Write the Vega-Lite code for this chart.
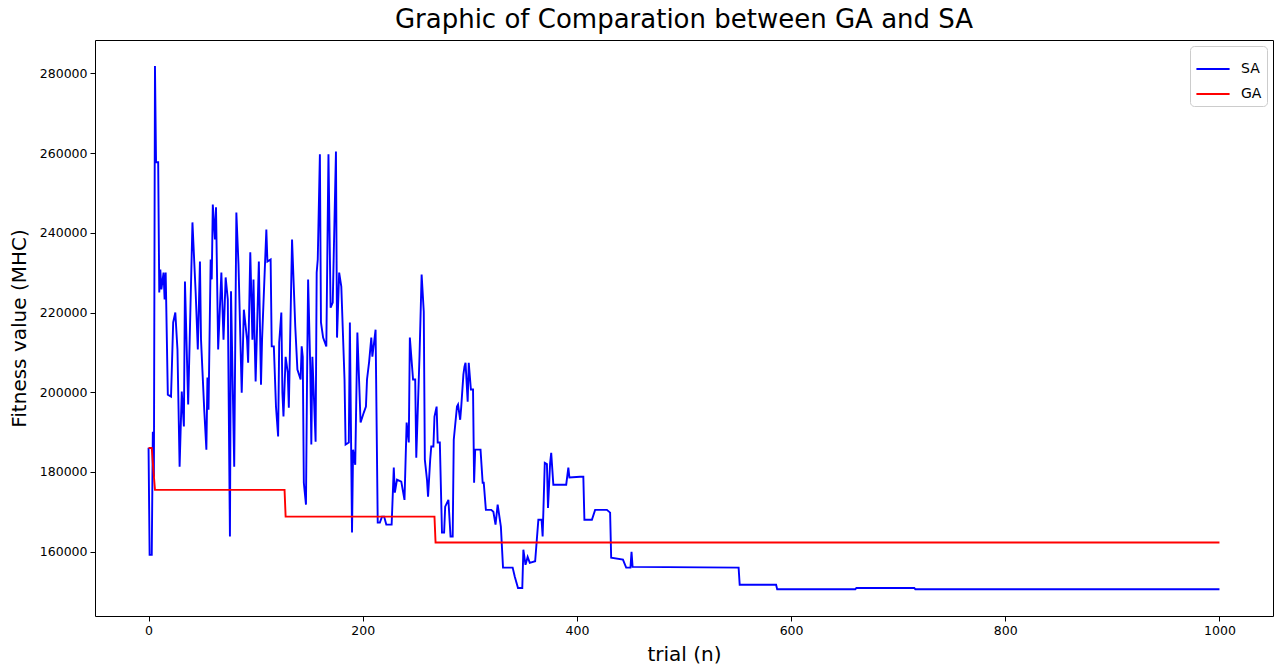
{
  "$schema": "https://vega.github.io/schema/vega-lite/v6.json",
  "width": 1178,
  "height": 576,
  "autosize": {"type": "none"},
  "padding": {"left": 95, "top": 40, "right": 4, "bottom": 50},
  "background": "white",
  "title": {"text": "Graphic of Comparation between GA and SA", "fontSize": 26, "font": "DejaVu Sans", "fontWeight": "normal", "color": "#000", "offset": 7, "anchor": "middle"},
  "config": {
    "view": {"stroke": "#000", "strokeWidth": 1},
    "axis": {"grid": false, "domain": false, "tickColor": "#000", "labelColor": "#000", "labelFont": "DejaVu Sans", "labelFontSize": 12.5, "titleFont": "DejaVu Sans", "titleFontSize": 20, "titleFontWeight": "normal", "titleColor": "#000", "tickSize": 5}
  },
  "datasets": {
    "sa": [
      {"trial":0,"fitness":186100},{"trial":1,"fitness":159200},{"trial":3,"fitness":159200},{"trial":4,"fitness":190100},{"trial":5,"fitness":178800},{"trial":6,"fitness":281800},{"trial":7,"fitness":257700},{"trial":9,"fitness":257700},{"trial":10,"fitness":225000},{"trial":11,"fitness":230800},{"trial":12,"fitness":225800},{"trial":14,"fitness":230000},{"trial":15,"fitness":223300},{"trial":16,"fitness":230000},{"trial":18,"fitness":199400},{"trial":21,"fitness":198900},{"trial":23,"fitness":217500},{"trial":25,"fitness":220000},{"trial":27,"fitness":210700},{"trial":29,"fitness":181300},{"trial":31,"fitness":200200},{"trial":33,"fitness":191400},{"trial":34,"fitness":227800},{"trial":37,"fitness":196900},{"trial":41,"fitness":242600},{"trial":43,"fitness":230800},{"trial":44,"fitness":225000},{"trial":46,"fitness":210700},{"trial":48,"fitness":232800},{"trial":49,"fitness":213200},{"trial":52,"fitness":195600},{"trial":54,"fitness":185600},{"trial":55,"fitness":203700},{"trial":56,"fitness":195600},{"trial":58,"fitness":233300},{"trial":59,"fitness":228300},{"trial":60,"fitness":247100},{"trial":62,"fitness":238300},{"trial":63,"fitness":246400},{"trial":65,"fitness":210700},{"trial":68,"fitness":230000},{"trial":70,"fitness":213200},{"trial":72,"fitness":228800},{"trial":74,"fitness":223300},{"trial":76,"fitness":163800},{"trial":77,"fitness":225300},{"trial":80,"fitness":181300},{"trial":82,"fitness":245100},{"trial":84,"fitness":232000},{"trial":87,"fitness":199900},{"trial":89,"fitness":220700},{"trial":92,"fitness":213200},{"trial":93,"fitness":207400},{"trial":95,"fitness":235100},{"trial":97,"fitness":213200},{"trial":98,"fitness":228300},{"trial":99,"fitness":214000},{"trial":100,"fitness":202700},{"trial":103,"fitness":232800},{"trial":105,"fitness":201900},{"trial":106,"fitness":213200},{"trial":110,"fitness":240800},{"trial":111,"fitness":232800},{"trial":114,"fitness":233300},{"trial":115,"fitness":211500},{"trial":117,"fitness":211500},{"trial":119,"fitness":196400},{"trial":121,"fitness":188900},{"trial":122,"fitness":212500},{"trial":124,"fitness":220000},{"trial":125,"fitness":199900},{"trial":126,"fitness":193900},{"trial":128,"fitness":208900},{"trial":130,"fitness":204900},{"trial":131,"fitness":196100},{"trial":134,"fitness":238300},{"trial":137,"fitness":216500},{"trial":139,"fitness":205700},{"trial":142,"fitness":203200},{"trial":143,"fitness":211500},{"trial":144,"fitness":208900},{"trial":145,"fitness":177300},{"trial":147,"fitness":171800},{"trial":148,"fitness":203200},{"trial":149,"fitness":228300},{"trial":151,"fitness":206400},{"trial":152,"fitness":186900},{"trial":153,"fitness":208900},{"trial":156,"fitness":187600},{"trial":157,"fitness":230000},{"trial":158,"fitness":233300},{"trial":160,"fitness":259700},{"trial":161,"fitness":217500},{"trial":163,"fitness":213700},{"trial":166,"fitness":211500},{"trial":168,"fitness":259700},{"trial":170,"fitness":221200},{"trial":172,"fitness":222500},{"trial":175,"fitness":260400},{"trial":176,"fitness":213700},{"trial":178,"fitness":230000},{"trial":180,"fitness":226500},{"trial":183,"fitness":203200},{"trial":184,"fitness":186900},{"trial":187,"fitness":187400},{"trial":188,"fitness":217500},{"trial":190,"fitness":164800},{"trial":191,"fitness":185600},{"trial":193,"fitness":181800},{"trial":195,"fitness":215000},{"trial":198,"fitness":192400},{"trial":201,"fitness":194900},{"trial":203,"fitness":196400},{"trial":204,"fitness":203200},{"trial":206,"fitness":207700},{"trial":208,"fitness":213700},{"trial":209,"fitness":208900},{"trial":212,"fitness":215700},{"trial":214,"fitness":167300},{"trial":216,"fitness":167300},{"trial":218,"fitness":168800},{"trial":220,"fitness":168800},{"trial":222,"fitness":166800},{"trial":227,"fitness":166800},{"trial":229,"fitness":181100},{"trial":230,"fitness":174800},{"trial":232,"fitness":178100},{"trial":236,"fitness":177600},{"trial":239,"fitness":173000},{"trial":241,"fitness":192400},{"trial":243,"fitness":187400},{"trial":244,"fitness":213700},{"trial":247,"fitness":203200},{"trial":249,"fitness":203200},{"trial":250,"fitness":183600},{"trial":253,"fitness":208900},{"trial":255,"fitness":229500},{"trial":257,"fitness":220200},{"trial":258,"fitness":183100},{"trial":260,"fitness":178100},{"trial":261,"fitness":173800},{"trial":263,"fitness":183100},{"trial":264,"fitness":186400},{"trial":266,"fitness":186400},{"trial":267,"fitness":193900},{"trial":269,"fitness":196400},{"trial":270,"fitness":187400},{"trial":272,"fitness":187400},{"trial":274,"fitness":164800},{"trial":276,"fitness":164800},{"trial":277,"fitness":171300},{"trial":280,"fitness":173000},{"trial":282,"fitness":163800},{"trial":284,"fitness":163800},{"trial":285,"fitness":188100},{"trial":288,"fitness":196400},{"trial":289,"fitness":196900},{"trial":291,"fitness":193100},{"trial":292,"fitness":196400},{"trial":294,"fitness":204400},{"trial":295,"fitness":206400},{"trial":296,"fitness":207400},{"trial":298,"fitness":197600},{"trial":299,"fitness":207400},{"trial":301,"fitness":200700},{"trial":303,"fitness":200700},{"trial":304,"fitness":177300},{"trial":305,"fitness":185600},{"trial":310,"fitness":185600},{"trial":312,"fitness":177300},{"trial":313,"fitness":177300},{"trial":315,"fitness":170500},{"trial":320,"fitness":170500},{"trial":322,"fitness":170000},{"trial":324,"fitness":166800},{"trial":326,"fitness":171800},{"trial":329,"fitness":166300},{"trial":331,"fitness":156000},{"trial":340,"fitness":156000},{"trial":342,"fitness":153700},{"trial":345,"fitness":150900},{"trial":349,"fitness":150900},{"trial":350,"fitness":160500},{"trial":352,"fitness":156700},{"trial":354,"fitness":158700},{"trial":356,"fitness":157200},{"trial":361,"fitness":157600},{"trial":364,"fitness":168000},{"trial":367,"fitness":168000},{"trial":368,"fitness":163800},{"trial":370,"fitness":182300},{"trial":372,"fitness":182000},{"trial":373,"fitness":171000},{"trial":375,"fitness":182300},{"trial":376,"fitness":184800},{"trial":378,"fitness":176800},{"trial":390,"fitness":176800},{"trial":392,"fitness":181100},{"trial":393,"fitness":178600},{"trial":403,"fitness":178800},{"trial":406,"fitness":178800},{"trial":407,"fitness":168000},{"trial":414,"fitness":168000},{"trial":417,"fitness":170500},{"trial":428,"fitness":170500},{"trial":431,"fitness":169800},{"trial":432,"fitness":158500},{"trial":443,"fitness":158000},{"trial":446,"fitness":156000},{"trial":450,"fitness":156000},{"trial":451,"fitness":160000},{"trial":452,"fitness":156200},{"trial":551,"fitness":156000},{"trial":552,"fitness":151700},{"trial":586,"fitness":151700},{"trial":587,"fitness":150600},{"trial":660,"fitness":150600},{"trial":661,"fitness":150900},{"trial":715,"fitness":150900},{"trial":716,"fitness":150600},{"trial":1000,"fitness":150600}
    ],
    "ga": [
      {"trial":0,"fitness":186000},{"trial":3,"fitness":186000},{"trial":4,"fitness":182300},{"trial":6,"fitness":175500},{"trial":127,"fitness":175500},{"trial":128,"fitness":168800},{"trial":267,"fitness":168800},{"trial":268,"fitness":162300},{"trial":1000,"fitness":162300}
    ]
  },
  "layer": [
    {
      "data": {"name": "sa"},
      "transform": [{"calculate": "'SA'", "as": "series"}],
      "mark": {"type": "line", "strokeWidth": 1.9, "interpolate": "linear", "clip": true},
      "encoding": {
        "x": {"field": "trial", "type": "quantitative", "scale": {"domain": [-50, 1050], "nice": false, "zero": false}, "axis": {"title": "trial (n)", "values": [0, 200, 400, 600, 800, 1000], "format": "d", "titlePadding": 8, "labelPadding": 3}},
        "y": {"field": "fitness", "type": "quantitative", "scale": {"domain": [143873, 288352], "nice": false, "zero": false}, "axis": {"title": "Fitness value (MHC)", "values": [160000, 180000, 200000, 220000, 240000, 260000, 280000], "format": "d", "titlePadding": 10, "labelPadding": 3}},
        "color": {"field": "series", "type": "nominal", "scale": {"domain": ["SA", "GA"], "range": ["#0000ff", "#ff0000"]}, "legend": {"title": null, "orient": "top-right", "offset": 6, "symbolType": "stroke", "symbolSize": 1100, "symbolStrokeWidth": 1.9, "labelFont": "DejaVu Sans", "labelFontSize": 14, "labelColor": "#000", "strokeColor": "#cccccc", "fillColor": "white", "cornerRadius": 4, "padding": 5, "rowPadding": 0, "labelOffset": 10}},
        "order": {"field": "trial", "type": "quantitative"}
      }
    },
    {
      "data": {"name": "ga"},
      "transform": [{"calculate": "'GA'", "as": "series"}],
      "mark": {"type": "line", "strokeWidth": 1.9, "clip": true},
      "encoding": {
        "x": {"field": "trial", "type": "quantitative"},
        "y": {"field": "fitness", "type": "quantitative"},
        "color": {"field": "series", "type": "nominal"},
        "order": {"field": "trial", "type": "quantitative"}
      }
    }
  ]
}
